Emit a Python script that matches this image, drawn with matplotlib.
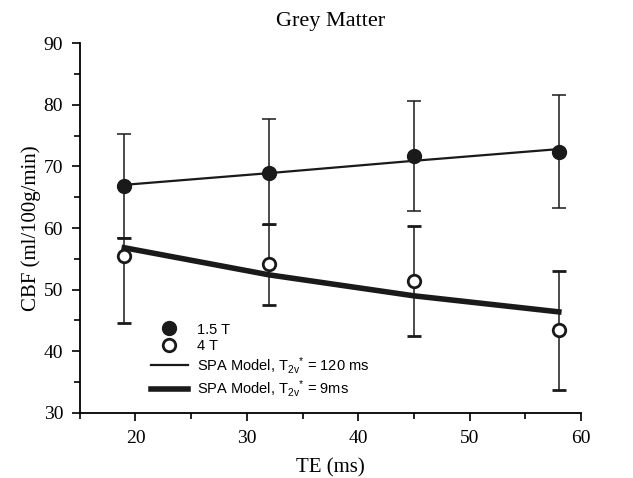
import matplotlib
matplotlib.use("Agg")
import matplotlib.pyplot as plt
from matplotlib.ticker import MultipleLocator
from matplotlib.lines import Line2D

plt.rcParams['mathtext.default'] = 'regular'

te = [19, 32, 45, 58]
cbf_15 = [66.8, 69.0, 71.7, 72.4]
cbf_15_lo = [58.3, 60.5, 62.8, 63.2]
cbf_15_hi = [75.2, 77.6, 80.6, 81.5]
cbf_4 = [55.5, 54.1, 51.4, 43.5]
cbf_4_lo = [44.6, 47.5, 42.5, 33.8]
cbf_4_hi = [58.4, 60.6, 60.3, 53.1]
model_120 = [67.0, 68.9, 70.9, 72.8]
model_9 = [56.8, 52.4, 49.0, 46.4]

fig = plt.figure(figsize=(6.33, 4.78), dpi=100)
ax = fig.add_axes([0.126, 0.136, 0.792, 0.774])

serif = 'Liberation Serif'
sans = 'Liberation Sans'

ax.plot(te, model_120, color='#1a1a1a', lw=1.6, zorder=2)
ax.plot(te, model_9, color='#1a1a1a', lw=4.0, zorder=2)

err15 = [[v - l for v, l in zip(cbf_15, cbf_15_lo)], [h - v for v, h in zip(cbf_15, cbf_15_hi)]]
err4 = [[v - l for v, l in zip(cbf_4, cbf_4_lo)], [h - v for v, h in zip(cbf_4, cbf_4_hi)]]
ax.errorbar(te, cbf_15, yerr=err15, fmt='o', color='#1a1a1a', ms=10, capsize=5,
            elinewidth=1.1, capthick=1.1, zorder=3)
ax.errorbar(te, cbf_4, yerr=err4, fmt='o', color='#1a1a1a', mfc='white', mec='#1a1a1a',
            mew=2.0, ms=9, capsize=5, elinewidth=1.1, capthick=1.1, zorder=3)

ax.set_xlim(15, 60)
ax.set_ylim(30, 90)
ax.xaxis.set_major_locator(MultipleLocator(10))
ax.xaxis.set_minor_locator(MultipleLocator(5))
ax.yaxis.set_major_locator(MultipleLocator(10))
ax.yaxis.set_minor_locator(MultipleLocator(5))
for s in ['top', 'right']:
    ax.spines[s].set_visible(False)
for s in ['left', 'bottom']:
    ax.spines[s].set_linewidth(1.3)
ax.tick_params(which='both', direction='out', width=1.2, labelsize=14, pad=6)
ax.tick_params(which='major', length=6)
ax.tick_params(which='minor', length=4)
for lab in ax.get_xticklabels() + ax.get_yticklabels():
    lab.set_fontfamily(serif)

ax.set_xlabel('TE (ms)', fontfamily=serif, fontsize=15, labelpad=8)
ax.set_ylabel('CBF (ml/100g/min)', fontfamily=serif, fontsize=15, labelpad=2)
ax.set_title('Grey Matter', fontfamily=serif, fontsize=16, pad=12)

handles = [
    Line2D([], [], marker='o', ls='none', color='#1a1a1a', ms=10),
    Line2D([], [], marker='o', ls='none', mfc='white', mec='#1a1a1a', mew=2.0, ms=9),
    Line2D([], [], color='#1a1a1a', lw=1.6),
    Line2D([], [], color='#1a1a1a', lw=4.0),
]
labels = ['1.5 T', '4 T', 'SPA Model, T$_{2v}$$^{*}$ = 120 ms', 'SPA Model, T$_{2v}$$^{*}$ = 9ms']
leg = ax.legend(handles, labels, loc='upper left', bbox_to_anchor=(0.115, 0.28), frameon=False,
                prop={'family': sans, 'size': 10.5}, handlelength=2.6, labelspacing=0.15,
                handletextpad=0.6)

fig.savefig('out.png', dpi=100)
